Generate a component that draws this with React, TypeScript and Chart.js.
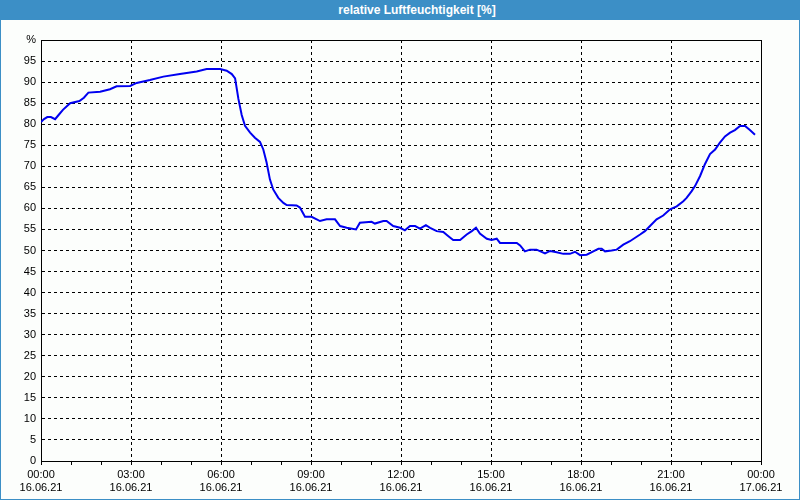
import React, { useEffect, useRef } from "react";
import { Chart, registerables } from "chart.js";

Chart.register(...registerables);

const TITLE = "relative Luftfeuchtigkeit [%]";
const HOURS = [
  0, 0.1, 0.21, 0.33, 0.47, 0.6, 0.73, 0.97, 1.28, 1.43, 1.58, 1.97, 2.3, 2.52, 2.97,
  3.19, 3.63, 4.08, 4.63, 5.19, 5.52, 5.97, 6.19, 6.36, 6.47, 6.58, 6.69, 6.8, 6.97,
  7.13, 7.3, 7.41, 7.52, 7.63, 7.74, 7.91, 8.08, 8.19, 8.52, 8.63, 8.8, 9.02, 9.3,
  9.52, 9.8, 9.97, 10.19, 10.5, 10.63, 11.02, 11.13, 11.41, 11.52, 11.74, 11.97,
  12.13, 12.3, 12.47, 12.63, 12.83, 12.97, 13.19, 13.41, 13.58, 13.74, 13.97, 14.19,
  14.36, 14.5, 14.63, 14.86, 15.02, 15.19, 15.3, 15.86, 15.97, 16.13, 16.3, 16.52,
  16.8, 16.97, 17.19, 17.41, 17.63, 17.8, 17.97, 18.19, 18.41, 18.58, 18.69, 18.8,
  19.02, 19.19, 19.41, 19.63, 19.97, 20.13, 20.3, 20.52, 20.74, 20.97, 21.19, 21.41,
  21.52, 21.69, 21.8, 21.97, 22.13, 22.3, 22.47, 22.63, 22.8, 22.97, 23.13, 23.3,
  23.47, 23.63, 23.8,
];
const HUMIDITY = [
  80.5, 81.2, 81.7, 81.7, 81.2, 82.3, 83.4, 85, 85.5, 86.3, 87.5, 87.7, 88.3, 89, 89.1,
  89.8, 90.5, 91.3, 91.9, 92.5, 93.1, 93.1, 92.7, 91.9, 90.9, 86, 82.2, 79.6, 78,
  76.8, 75.8, 74, 70.9, 66.9, 64.5, 62.5, 61.3, 60.8, 60.7, 60.2, 58, 58, 57,
  57.4, 57.4, 55.8, 55.4, 55, 56.6, 56.8, 56.4, 57, 57, 55.8, 55.4,
  54.8, 55.8, 55.8, 55.2, 56, 55.4, 54.6, 54.4, 53.4, 52.5, 52.5, 53.8,
  54.6, 55.4, 54, 52.8, 52.5, 52.8, 51.8, 51.8, 51.2, 49.8, 50.2, 50.2,
  49.3, 49.9, 49.6, 49.2, 49.2, 49.7, 48.9, 49, 49.8, 50.4, 50.4, 49.8,
  50, 50.2, 51.4, 52.2, 53.8, 54.6, 55.8, 57.4, 58.3, 59.8, 60.5, 61.7,
  62.5, 64.1, 65.3, 67.7, 70.5, 72.9, 74, 75.6, 77.1, 78, 78.6, 79.6,
  79.6, 78.6, 77.5,
];
const TIME_LABELS = ["00:00", "03:00", "06:00", "09:00", "12:00", "15:00", "18:00", "21:00", "00:00"];
const DATE_LABELS = ["16.06.21", "16.06.21", "16.06.21", "16.06.21", "16.06.21", "16.06.21", "16.06.21", "16.06.21", "17.06.21"];
const Y_TOP_LABEL = "%";

const FONT = { family: "'Liberation Sans', Arial, sans-serif", size: 11 };

const framePlugin = {
  id: "frame",
  beforeDatasetsDraw(chart: any) {
    const { ctx, chartArea } = chart;
    ctx.save();
    ctx.strokeStyle = "#000";
    ctx.lineWidth = 1;
    ctx.strokeRect(Math.round(chartArea.left) + 0.5, Math.round(chartArea.top) + 0.5,
      Math.round(chartArea.right - chartArea.left), Math.round(chartArea.bottom - chartArea.top));
    ctx.restore();
  },
};

export default function App() {
  const ref = useRef<HTMLCanvasElement>(null);
  useEffect(() => {
    if (!ref.current) return;
    const chart = new Chart(ref.current, {
      type: "line",
      data: {
        datasets: [
          {
            data: HOURS.map((h, i) => ({ x: h, y: HUMIDITY[i] })),
            borderColor: "#0000F0",
            borderWidth: 2,
            pointRadius: 0,
            tension: 0,
            fill: false,
          },
        ],
      },
      options: {
        animation: false,
        responsive: false,
        layout: { padding: { top: 40, left: 0, right: 39, bottom: 0 } },
        plugins: { legend: { display: false }, tooltip: { enabled: false } },
        scales: {
          x: {
            type: "linear",
            min: 0,
            max: 24,
            afterFit: (s: any) => { s.height = 39; },
            border: { display: true, color: "#000", width: 1, dash: [3, 3] },
            grid: {
              color: (c: any) => (c.tick && c.tick.value % 3 === 0 ? "#000" : "rgba(0,0,0,0)"),
              tickColor: "#000",
              tickLength: 4,
              drawTicks: true,
            },
            ticks: {
              stepSize: 1,
              autoSkip: false,
              maxRotation: 0,
              padding: 3,
              color: "#000",
              font: FONT,
              callback: (v: any) => {
                const n = Number(v);
                if (n % 3 !== 0) return "";
                const i = n / 3;
                return [TIME_LABELS[i], DATE_LABELS[i]];
              },
            },
          },
          y: {
            min: 0,
            max: 100,
            afterFit: (s: any) => { s.width = 41; },
            border: { display: true, color: "#000", width: 1, dash: [3, 3] },
            grid: { color: "#000", drawTicks: false },
            ticks: {
              stepSize: 5,
              padding: 5,
              color: "#000",
              font: FONT,
              callback: (v: any) => (Number(v) === 100 ? Y_TOP_LABEL : String(v)),
            },
          },
        },
      },
      plugins: [framePlugin],
    });
    return () => chart.destroy();
  }, []);

  return (
    <div style={{ position: "fixed", left: 0, top: 0, width: 800, height: 500, background: "#FCFEFC", boxSizing: "border-box", border: "1px solid #3C8FC6", borderTop: "none" }}>
      <div style={{ position: "absolute", left: -1, top: 0, width: 800, height: 20, background: "#3C8FC6", color: "#fff", font: "bold 12px 'Liberation Sans', Arial, sans-serif", lineHeight: "20px", textAlign: "center", paddingLeft: 34, boxSizing: "border-box" }}>
        {TITLE}
      </div>
      <canvas ref={ref} width={800} height={500} style={{ position: "absolute", left: -1, top: 0 }} />
    </div>
  );
}
